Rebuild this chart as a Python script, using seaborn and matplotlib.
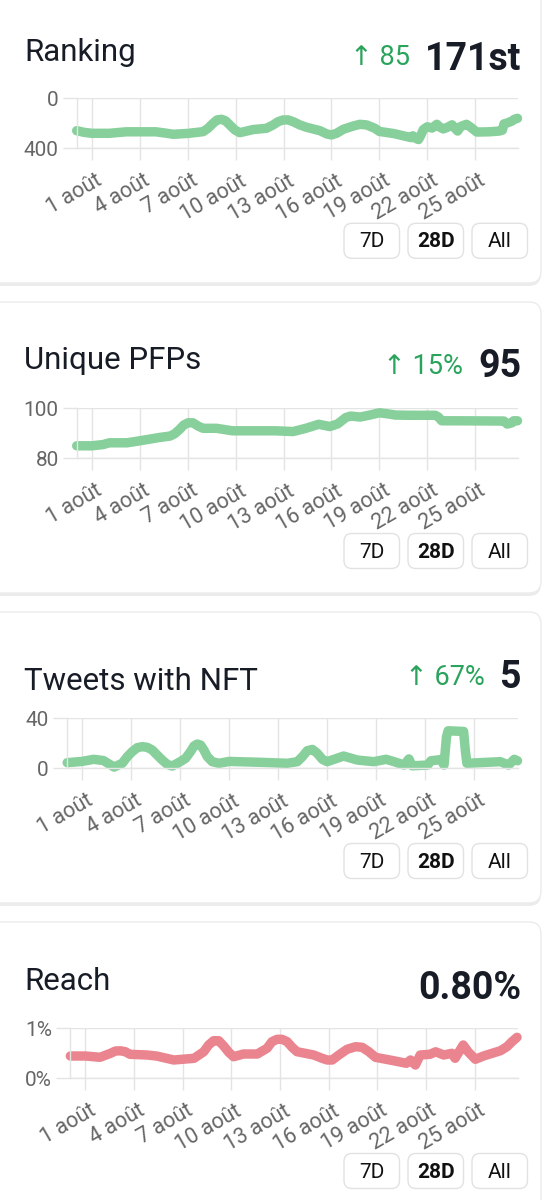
import pandas as pd
import seaborn as sns
import matplotlib.pyplot as plt
from matplotlib.patches import FancyBboxPatch
from matplotlib.transforms import ScaledTranslation

# x values are days after 31 July
rank_days = [0.05, 0.5, 1.0, 2.1, 3.15, 4.0, 5.0, 5.6, 6.1, 7.0, 7.96, 8.27, 8.59, 8.84, 9.11,
             9.36, 9.63, 9.95, 10.26, 11.1, 11.93, 12.35, 12.66, 12.98, 13.29, 13.6, 14.02, 14.44,
             15.28, 15.7, 16.0, 16.32, 16.74, 17.36, 17.78, 18.2, 18.72, 19.0, 19.9, 20.7, 21.0,
             21.1, 21.3, 21.45, 21.6, 21.75, 22.0, 22.3, 22.6, 22.8, 23.0, 23.3, 23.55, 23.7, 23.9,
             24.1, 24.45, 24.7, 25.1, 25.9, 26.5, 26.7, 26.8, 27.05, 27.3, 27.45, 27.65]
rank_vals = [259, 272, 280, 280, 268, 268, 268, 278, 288, 281, 267, 240, 200, 173, 168,
             179, 213, 253, 275, 250, 240, 213, 187, 173, 173, 187, 213, 232,
             259, 285, 293, 280, 248, 222, 208, 213, 240, 265, 282, 306, 315,
             300, 322, 330, 295, 250, 228, 238, 208, 232, 245, 230, 212, 235, 262,
             225, 208, 230, 270, 268, 262, 255, 205, 195, 182, 168, 160]

pfp_days = [0.05, 1.0, 1.7, 2.1, 3.2, 4.0, 5.2, 5.9, 6.18, 6.5, 6.75, 7.02, 7.33, 7.65, 7.96,
            8.8, 9.8, 11.5, 12.5, 13.6, 14.4, 15.2, 15.9, 16.4, 16.9, 17.2, 17.8, 18.4, 19.0,
            19.5, 20.0, 20.9, 22.5, 22.7, 22.9, 24.0, 26.8, 27.0, 27.3, 27.4, 27.65]
pfp_vals = [85.0, 85.0, 85.5, 86.2, 86.2, 87.0, 88.3, 88.9, 89.8, 91.6, 93.3, 94.2, 94.2, 92.9,
            92.0, 92.0, 91.0, 91.0, 91.0, 90.7, 92.0, 93.6, 92.7, 93.8, 96.3, 96.9, 96.5, 97.3,
            98.2, 97.8, 97.3, 97.2, 97.2, 96.5, 95.0, 95.0, 94.9, 93.7, 94.2, 95.0, 95.0]

tweet_days = [0.08, 1.0, 1.7, 2.3, 2.95, 3.45, 3.76, 4.06, 4.37, 4.67, 4.98, 5.29, 5.59, 5.9,
              6.2, 6.51, 7.0, 7.33, 7.63, 7.84, 8.04, 8.25, 8.45, 8.66, 8.96, 9.37, 10.0, 11.9,
              13.55, 14.17, 14.48, 14.78, 15.09, 15.39, 15.7, 16.0, 17.0, 17.85, 18.85, 19.6,
              20.1, 20.7, 21.0, 21.2, 22.15, 22.35, 22.95, 23.15, 23.3, 23.4, 24.35, 24.45, 24.55,
              26.6, 27.1, 27.45, 27.65]
tweet_vals = [4.5, 5.5, 7.2, 6.2, 1.0, 4.0, 9.3, 13.3, 16.5, 17.3, 16.8, 14.6, 10.6, 6.6,
              3.2, 1.8, 5.3, 8.0, 13.3, 17.8, 19.4, 18.6, 14.6, 9.3, 5.3, 4.0, 5.5, 4.8,
              4.0, 5.3, 9.3, 14.1, 15.1, 12.0, 7.2, 5.3, 9.8, 6.6, 5.3, 7.2,
              5.3, 2.6, 7.5, 2.0, 2.6, 6.0, 7.0, 2.6, 25.0, 30.0, 29.5, 15.0, 4.0,
              5.3, 2.6, 7.2, 6.0]

reach_days = [0.07, 1.0, 1.9, 2.55, 2.85, 3.16, 3.46, 3.75, 4.8, 5.4, 6.45, 7.7, 8.3, 8.6, 8.91,
              9.22, 9.53, 9.84, 10.14, 10.75, 11.6, 12.2, 12.51, 12.82, 13.13, 13.44, 13.75, 14.05,
              15.08, 15.6, 15.91, 16.22, 16.63, 17.14, 17.66, 18.07, 18.48, 18.89, 20.0, 20.8,
              21.05, 21.35, 21.65, 22.25, 22.6, 23.1, 23.6, 23.8, 24.3, 24.6, 25.05, 25.55, 26.6,
              27.0, 27.3, 27.62]
reach_vals = [0.446, 0.446, 0.42, 0.50, 0.546, 0.55, 0.532, 0.48, 0.466, 0.445, 0.366, 0.40,
              0.532, 0.666, 0.752, 0.752, 0.646, 0.52, 0.432, 0.486, 0.486, 0.60, 0.733, 0.78,
              0.78, 0.733, 0.62, 0.532, 0.466, 0.40, 0.366, 0.366, 0.466, 0.58, 0.632, 0.62,
              0.532, 0.42, 0.352, 0.30, 0.366, 0.266, 0.466, 0.48, 0.53, 0.466, 0.50, 0.40,
              0.666, 0.532, 0.38, 0.446, 0.552, 0.632, 0.73, 0.82]

tick_days = [1, 4, 7, 10, 13, 16, 19, 22, 25]
tick_labels = ['1 août', '4 août', '7 août', '10 août', '13 août', '16 août', '19 août',
               '22 août', '25 août']
buttons = ['7D', '28D', 'All']

GREEN = '#87cf9b'
RED = '#ea8590'
DARK = '#171c26'
GRID = '#e4e4e4'

sns.set_theme(style='white')
plt.rcParams['font.family'] = ['Roboto', 'DejaVu Sans']

start = pd.Timestamp('2022-07-31')


def to_dates(days):
    return start + pd.to_timedelta(days, unit='D')


fig = plt.figure(figsize=(5.46, 12), dpi=100)
bg = fig.add_axes([0, 0, 1, 1], zorder=-1)
bg.set_xlim(0, 546)
bg.set_ylim(1200, 0)
bg.axis('off')

# title, change, value, days, vals, colour, card (top, bottom), plot box px (left, top, bottom),
# ylim, yticks, ytick labels, title baseline, value baseline, change baseline, button centre
panels = [
    ('Ranking', '↑ 85', '171st', rank_days, rank_vals, GREEN, (-20, 283), (76.7, 98.3, 148.3),
     (400, 0), [0, 400], ['0', '400'], 61, 69.5, 65, 240.8),
    ('Unique PFPs', '↑ 15%', '95', pfp_days, pfp_vals, GREEN, (302, 593), (76.7, 408.3, 458.3),
     (80, 100), [80, 100], ['80', '100'], 369, 377, 374, 551),
    ('Tweets with NFT', '↑ 67%', '5', tweet_days, tweet_vals, GREEN, (612, 903), (66.7, 718.3, 768.3),
     (0, 40), [0, 40], ['0', '40'], 690, 688, 685, 861),
    ('Reach', '', '0.80%', reach_days, reach_vals, RED, (922, 1220), (70, 1028.3, 1078.3),
     (0, 1), [0, 1], ['0%', '1%'], 990, 999, 995, 1171),
]

xmin, xmax = to_dates([0.05, 27.68])

value_texts = []
for (title, change, value, days, vals, color, card, box, ylim, yticks, ylabels,
     tb, vb, cb, bc) in panels:
    top, bottom = card
    bg.add_patch(FancyBboxPatch((-20, top + 3), 561, bottom - top, boxstyle='round,pad=0,rounding_size=12',
                                fc='#ececec', ec='none', zorder=0))
    bg.add_patch(FancyBboxPatch((-20, top), 561, bottom - top, boxstyle='round,pad=0,rounding_size=12',
                                fc='white', ec='#ebebeb', lw=1, zorder=1))

    bg.text(24, tb, title, fontsize=22.5, color=DARK, ha='left', va='baseline', zorder=3)
    vt = bg.text(521, vb, value, fontsize=27, weight='bold', color=DARK, ha='right', va='baseline', zorder=3)
    value_texts.append((vt, change, cb))

    for bx, label in zip([344, 408, 472], buttons):
        bg.add_patch(FancyBboxPatch((bx, bc - 17.5), 55.5, 35, boxstyle='round,pad=0,rounding_size=8',
                                    fc='white', ec='#e2e2e2', lw=1, zorder=2))
        bg.text(bx + 27.75, bc + 1, label, fontsize=15, color='#111111', ha='center', va='center',
                weight='bold' if label == '28D' else 'normal', zorder=3)

    left, ptop, pbottom = box
    ax = fig.add_axes([left / 546, 1 - pbottom / 1200, (518 - left) / 546, (pbottom - ptop) / 1200])
    ax.patch.set_alpha(0)
    df = pd.DataFrame({'date': to_dates(days), 'value': vals})
    sns.lineplot(data=df, x='date', y='value', ax=ax, color=color, linewidth=6.8,
                 solid_capstyle='round', solid_joinstyle='round', clip_on=False)
    ax.set_xlim(xmin, xmax)
    ax.set_ylim(*ylim)
    ax.set_yticks(yticks)
    ax.set_yticklabels(ylabels)
    ax.set_xticks(to_dates(tick_days))
    ax.set_xticklabels(tick_labels, rotation=30, ha='right', va='center', rotation_mode='anchor')
    ax.set_xlabel('')
    ax.set_ylabel('')
    ax.grid(True, color=GRID, lw=1)
    ax.set_axisbelow(True)
    for s in ['top', 'right']:
        ax.spines[s].set_visible(False)
    for s in ['left', 'bottom']:
        ax.spines[s].set_color(GRID)
        ax.spines[s].set_linewidth(1)
    ax.tick_params(axis='both', bottom=True, left=True, width=1, color=GRID, labelcolor='#666666')
    ax.tick_params(axis='y', length=10, labelsize=15, pad=3)
    ax.tick_params(axis='x', length=8.5, labelsize=15.5, pad=14)
    # shift the rotated date labels a little to the right, like the original
    for lab in ax.get_xticklabels():
        lab.set_transform(lab.get_transform() + ScaledTranslation(9 / 100, 0, fig.dpi_scale_trans))

fig.canvas.draw()
for vt, change, cb in value_texts:
    if change:
        x0 = vt.get_window_extent().x0
        bg.text(x0 - 15, cb, change, fontsize=19.5, color='#2aa35c', ha='right', va='baseline', zorder=3)

fig.savefig('out.png', dpi=100)
